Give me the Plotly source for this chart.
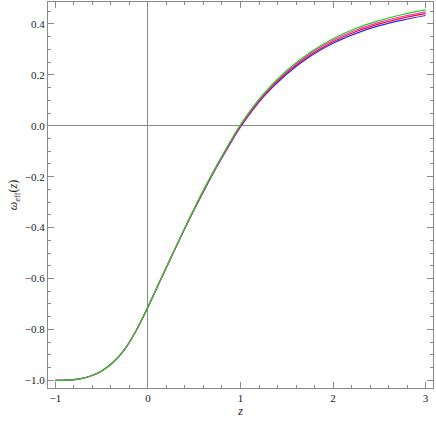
import plotly.graph_objects as go

z = [-1.0, -0.875, -0.75, -0.625, -0.5, -0.375, -0.25, -0.125, 0.0, 0.125, 0.25, 0.375, 0.5,
     0.625, 0.75, 0.875, 1.0, 1.25, 1.5, 1.75, 2.0, 2.25, 2.5, 2.75, 3.0]

low = [-1.000, -0.999, -0.995, -0.984, -0.963, -0.929, -0.877, -0.803]

w_blue = low + [-0.712, -0.614, -0.517, -0.421, -0.329, -0.241, -0.157, -0.079, -0.005,
                0.114, 0.203, 0.272, 0.324, 0.363, 0.393, 0.415, 0.433]
w_red = low + [-0.712, -0.614, -0.516, -0.420, -0.328, -0.239, -0.155, -0.076, -0.002,
               0.118, 0.208, 0.277, 0.330, 0.370, 0.400, 0.423, 0.4405]
w_magenta = low + [-0.712, -0.614, -0.516, -0.420, -0.326, -0.237, -0.153, -0.074, 0.002,
                   0.122, 0.212, 0.283, 0.336, 0.376, 0.406, 0.429, 0.4475]
w_green = low + [-0.712, -0.614, -0.515, -0.419, -0.325, -0.235, -0.151, -0.071, 0.005,
                 0.126, 0.217, 0.288, 0.342, 0.383, 0.413, 0.437, 0.455]

series = [
    (w_blue, "rgb(40,40,255)"),
    (w_red, "rgb(235,20,20)"),
    (w_magenta, "rgb(255,40,200)"),
    (w_green, "rgb(30,210,30)"),
]

x_ticks = [-1, 0, 1, 2, 3]
y_ticks = [-1.0, -0.8, -0.6, -0.4, -0.2, 0.0, 0.2, 0.4]

fig = go.Figure()
for w, c in series:
    fig.add_trace(go.Scatter(x=z, y=w, mode="lines",
                             line=dict(color=c, width=1.2, shape="spline", smoothing=1.0),
                             showlegend=False, hoverinfo="skip"))

frame = "#8a8a8a"
font = dict(family="Liberation Serif, Times New Roman, serif", size=11, color="#222")

fig.update_layout(
    width=436, height=426,
    margin=dict(l=48, r=3, t=2, b=38),
    paper_bgcolor="white", plot_bgcolor="white",
    font=font,
    xaxis=dict(
        range=[-1.08, 3.08], tickvals=x_ticks,
        ticktext=[("\u2212" if v < 0 else "") + str(abs(v)) for v in x_ticks],
        ticks="inside", ticklen=6, tickcolor=frame, tickwidth=1,
        minor=dict(ticks="inside", ticklen=3, dtick=0.2, tick0=0, tickcolor=frame, showgrid=False),
        showline=True, linecolor=frame, linewidth=1, mirror="allticks",
        showgrid=False, zeroline=True, zerolinecolor=frame, zerolinewidth=1,
        automargin=False,
        title=dict(text="<i>z</i>", font=dict(size=12), standoff=2),
    ),
    yaxis=dict(
        range=[-1.03, 0.486], tickvals=y_ticks,
        ticktext=[("\u2212" if v < 0 else "") + "%.1f" % abs(v) for v in y_ticks],
        ticks="inside", ticklen=6, tickcolor=frame, tickwidth=1,
        minor=dict(ticks="inside", ticklen=3, dtick=0.05, tick0=0, tickcolor=frame, showgrid=False),
        showline=True, linecolor=frame, linewidth=1, mirror="allticks",
        showgrid=False, zeroline=True, zerolinecolor=frame, zerolinewidth=1,
        automargin=False,
        title=dict(text="<i>\u03c9</i><sub>eff</sub>(<i>z</i>)", font=dict(size=12), standoff=4),
    ),
)

fig.write_html("out.html", config={"displayModeBar": False},
               post_script="document.body.style.margin='0px';document.body.style.padding='0px';")
